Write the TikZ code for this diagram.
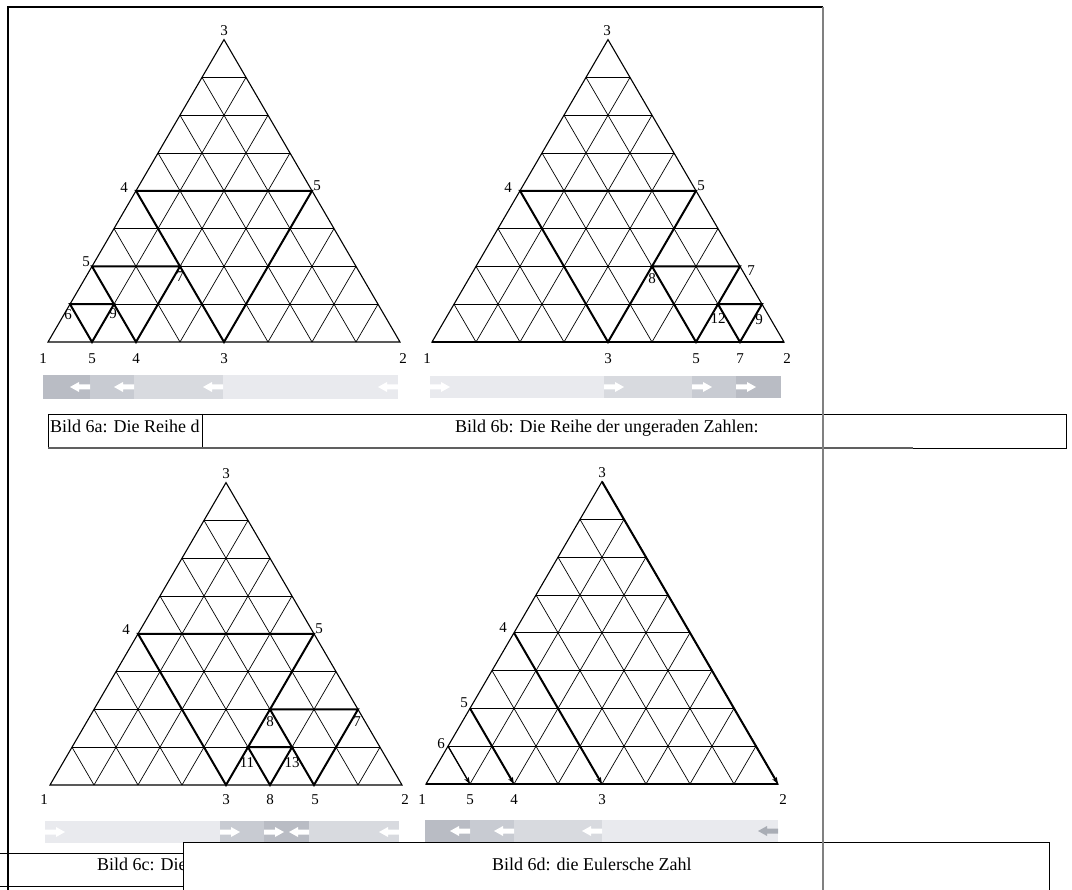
\documentclass[tikz,border=0pt]{standalone}
\usepackage{fontspec}
\setmainfont{Liberation Serif}
\usepackage{xcolor}
\usetikzlibrary{arrows.meta}
\definecolor{barA}{HTML}{B9BCC4}
\definecolor{barB}{HTML}{C8CBD2}
\definecolor{barC}{HTML}{D8DADF}
\definecolor{barD}{HTML}{E9EAEE}
\definecolor{arrgray}{HTML}{A9ADB5}
\newcommand{\trigrid}{%
  \foreach \k in {1,...,7}{
    \draw[gridline] (0,\k) -- ({8-\k},\k);
    \draw[gridline] (\k,0) -- (\k,{8-\k});
    \draw[gridline] (0,\k) -- (\k,0);
  }
  \draw[rim] (0,0) -- (8,0) -- (0,8) -- cycle;
}
\newcommand{\larr}[3][white]{\fill[#1] (#2,#3) ++(-20,0) -- ++(9,-5) -- ++(0,2.5) -- ++(11,0) -- ++(0,5) -- ++(-11,0) -- ++(0,2.5) -- cycle;}
\newcommand{\rarr}[3][white]{\fill[#1] (#2,#3) ++(0,-2.5) -- ++(11,0) -- ++(0,-2.5) -- ++(9,5) -- ++(-9,5) -- ++(0,-2.5) -- ++(-11,0) -- cycle;}

\begin{document}
\begin{tikzpicture}[x=1pt,y=-1pt,
  gridline/.style={line width=0.7pt},
  rim/.style={line width=1.1pt},
  bold/.style={line width=2pt},
  tipline/.style={-{Stealth[length=7pt,width=5pt]}},
  tri/.style={x={(44pt,0pt)},y={(22pt,37.8pt)}},
  lbl/.style={font=\fontsize{15}{15}\selectfont,inner sep=0pt},
  captxt/.style={font=\fontsize{18}{20}\selectfont,inner sep=0pt,anchor=base west}]
\useasboundingbox (0,0) rectangle (1072,890);

\begin{scope}[shift={(48pt,-342pt)},tri]
\trigrid
\draw[bold] (0,4) -- (4,4) -- (4,0) -- cycle;
\draw[bold] (0,2) -- (2,2) -- (2,0) -- cycle;
\draw[bold] (0,1) -- (1,1) -- (1,0) -- cycle;
\end{scope}
\node[lbl] (a-top) at (224,31) {3};
\node[lbl] (a-l4) at (124,188) {4};
\node[lbl] (a-r4) at (317,186) {5};
\node[lbl] (a-l2) at (86,262) {5};
\node[lbl] (a-m2) at (180,277) {7};
\node[lbl] (a-l1) at (68,315) {6};
\node[lbl] (a-m1) at (113,314) {9};
\foreach \x/\t [count=\n] in {43/1,92/5,136/4,224/3,403/2}
  \node[lbl] (a-b\n) at (\x,359) {\t};

\begin{scope}[shift={(432pt,-342pt)},tri]
\trigrid
\draw[bold] (0,0) -- (8,0);
\draw[bold] (0,4) -- (4,4) -- (4,0) -- cycle;
\draw[bold] (4,2) -- (6,2) -- (6,0) -- cycle;
\draw[bold] (6,1) -- (7,1) -- (7,0) -- cycle;
\end{scope}
\node[lbl] (b-top) at (607,31) {3};
\node[lbl] (b-l4) at (508,188) {4};
\node[lbl] (b-r4) at (701,186) {5};
\node[lbl] (b-m2) at (652,279) {8};
\node[lbl] (b-r2) at (751,271) {7};
\node[lbl] (b-m1) at (718,319) {12};
\node[lbl] (b-r1) at (759,320) {9};
\foreach \x/\t [count=\n] in {427/1,608/3,696/5,740/7,787/2}
  \node[lbl] (b-b\n) at (\x,359) {\t};

\begin{scope}[shift={(50pt,-785pt)},tri]
\trigrid
\draw[bold] (0,4) -- (4,4) -- (4,0) -- cycle;
\draw[bold] (4,2) -- (6,2) -- (6,0) -- cycle;
\draw[bold] (4,1) -- (5,1) -- (5,0) -- cycle;
\end{scope}
\node[lbl] (c-top) at (226,474) {3};
\node[lbl] (c-l4) at (126,630) {4};
\node[lbl] (c-r4) at (319,629) {5};
\node[lbl] (c-m2) at (270,722) {8};
\node[lbl] (c-r2) at (357,722) {7};
\node[lbl] (c-l1) at (247,763) {11};
\node[lbl] (c-r1) at (292,763) {13};
\foreach \x/\t [count=\n] in {44/1,226/3,270/8,315/5,405/2}
  \node[lbl] (c-b\n) at (\x,800) {\t};

\begin{scope}[shift={(426pt,-784pt)},tri]
\trigrid
\draw[bold] (0,0) -- (8,0);
\draw[bold,tipline] (0,8) -- (8,0);
\draw[bold,tipline] (0,4) -- (4,0);
\draw[bold,tipline] (0,2) -- (2,0);
\draw[line width=1.3pt,tipline] (0,1) -- (1,0);
\end{scope}
\node[lbl] (d-top) at (602,473) {3};
\node[lbl] (d-l4) at (503,628) {4};
\node[lbl] (d-l2) at (464,703) {5};
\node[lbl] (d-l1) at (441,744) {6};
\foreach \x/\t [count=\n] in {422/1,470/5,514/4,602/3,783/2}
  \node[lbl] (d-b\n) at (\x,800) {\t};

\fill[barA] (43,375) rectangle (90,399);
\fill[barB] (90,375) rectangle (134,399);
\fill[barC] (134,375) rectangle (223,399);
\fill[barD] (223,375) rectangle (398,399);
\larr{90}{387} \larr{134}{387} \larr{223}{387} \larr{398}{387}

\fill[barD] (430,376) rectangle (604,398);
\fill[barC] (604,376) rectangle (692,398);
\fill[barB] (692,376) rectangle (736,398);
\fill[barA] (736,376) rectangle (781,398);
\rarr{430}{387} \rarr{604}{387} \rarr{692}{387} \rarr{736}{387}

\fill[barD] (45,821) rectangle (220,843);
\fill[barB] (220,821) rectangle (264,843);
\fill[barA] (264,821) rectangle (309,843);
\fill[barC] (309,821) rectangle (399,843);
\rarr{45}{832} \rarr{220}{832} \rarr{264}{832} \larr{309}{832} \larr{399}{832}

\fill[barA] (425,820) rectangle (470,842);
\fill[barB] (470,820) rectangle (514,842);
\fill[barC] (514,820) rectangle (602,842);
\fill[barD] (602,820) rectangle (778,842);
\larr{470}{831} \larr{514}{831} \larr{602}{831} \larr[arrgray]{778}{831}

\draw (48,414) rectangle (1066,448);
\draw (202,414) -- (202,448);
\draw[line width=1.5pt,gray!75!black] (48,448) -- (913,448);
\node[captxt] (cap-a) at (50,433) {Bild 6a: Die Reihe d};
\node[captxt] (cap-b) at (455,433) {Bild 6b: Die Reihe der ungeraden Zahlen:};

\draw (0,853) -- (183,853);
\draw (0,886) -- (183,886);
\node[captxt] (cap-c) at (97,870) {Bild 6c: Die};
\fill[white] (183,842) rectangle (1049,890);
\draw (183,890) -- (183,842) -- (1049,842) -- (1049,890);
\node[captxt] (cap-d) at (492,870) {Bild 6d: die Eulersche Zahl};

\draw[line width=1.2pt] (8,890) -- (8,7) -- (823,7);
\draw[line width=2pt,gray] (823,7) -- (823,890);
\end{tikzpicture}
\end{document}
